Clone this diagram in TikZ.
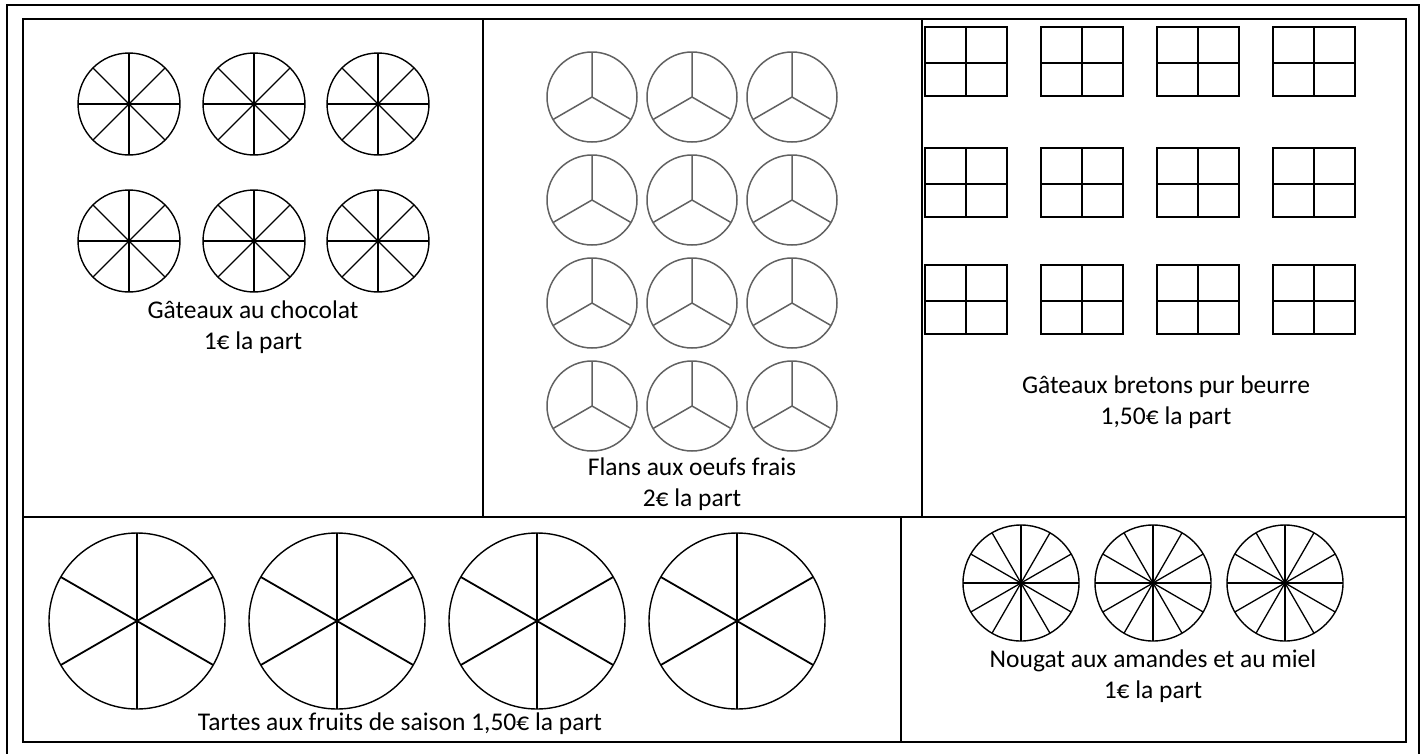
\documentclass[tikz,border=0pt]{standalone}
\usepackage{fontspec}
\setmainfont{Carlito}
\begin{document}
\begin{tikzpicture}[x=1pt,y=-1pt,
  frame/.style={line width=2.6pt},
  outerframe/.style={line width=2pt},
  lbl/.style={align=center,font=\fontsize{25.5}{30.5}\selectfont,inner sep=0pt},
  rim/.style={line width=1.4pt},
  cut/.style={line width=1.3pt},
  thickcut/.style={line width=2.8pt},
  flanline/.style={line width=1.5pt,draw=black!62},
  boxline/.style={line width=2pt}]
\useasboundingbox (0,0) rectangle (1428,753);
\fill[white] (0,0) rectangle (1428,753);
% frames
\draw[outerframe] (7,770) -- (7,5) -- (1419,5) -- (1419,770);
\draw[frame] (23,19) rectangle (1406,742);
\draw[frame] (23,517) -- (1406,517);
\draw[frame] (483,19) -- (483,517);
\draw[frame] (922,19) -- (922,517);
\draw[frame] (901,517) -- (901,742);
% chocolate cakes
\foreach \cx in {129,254,378} {
  \foreach \cy in {104,241} {
    \draw[rim] (\cx,\cy) circle[radius=51pt];
    \draw[thickcut] (\cx-51,\cy) -- (\cx+51,\cy);
    \draw[cut] (\cx,\cy-51) -- (\cx,\cy+51);
    \draw[cut] (\cx-36.06,\cy-36.06) -- (\cx+36.06,\cy+36.06);
    \draw[cut] (\cx-36.06,\cy+36.06) -- (\cx+36.06,\cy-36.06);
  }
}
% flans
\foreach \cx in {592,692,792} {
  \foreach \cy in {97,200,303,406} {
    \draw[flanline] (\cx,\cy) circle[radius=45pt];
    \draw[flanline] (\cx,\cy-45) -- (\cx,\cy) -- (\cx-38.97,\cy+22.5);
    \draw[flanline] (\cx,\cy) -- (\cx+38.97,\cy+22.5);
  }
}
% breton cakes
\foreach \sx in {925,1041,1157,1273} {
  \foreach \sy in {27,148,265} {
    \draw[boxline] (\sx,\sy) rectangle (\sx+82,\sy+69);
    \draw[boxline] (\sx+41,\sy) -- (\sx+41,\sy+69);
    \draw[boxline] (\sx,\sy+36) -- (\sx+82,\sy+36);
  }
}
% tartes
\foreach \cx in {137,337,537,737} {
  \draw[rim] (\cx,621) circle[radius=88pt];
  \draw[line width=1.8pt] (\cx,533) -- (\cx,709);
  \draw[line width=1.8pt] (\cx-76.2,577) -- (\cx+76.2,665);
  \draw[line width=1.8pt] (\cx-76.2,665) -- (\cx+76.2,577);
}
% nougat
\foreach \cx in {1021,1153,1285} {
  \draw[rim] (\cx,583) circle[radius=58pt];
  \draw[thickcut] (\cx-58,583) -- (\cx+58,583);
  \foreach \a in {30,60,90,120,150} {
    \draw[cut] ({\cx+58*cos(\a)},{583-58*sin(\a)}) -- ({\cx-58*cos(\a)},{583+58*sin(\a)});
  }
}
% labels
\node[lbl] (choc) at (253,327) {Gâteaux au chocolat\\1€ la part};
\node[lbl] (flan) at (692,484) {Flans aux oeufs frais\\2€ la part};
\node[lbl] (bret) at (1166,402) {Gâteaux bretons pur beurre\\1,50€ la part};
\node[lbl] (tarte) at (400,724) {Tartes aux fruits de saison 1,50€ la part};
\node[lbl] (noug) at (1153,676) {Nougat aux amandes et au miel\\1€ la part};
\end{tikzpicture}
\end{document}
